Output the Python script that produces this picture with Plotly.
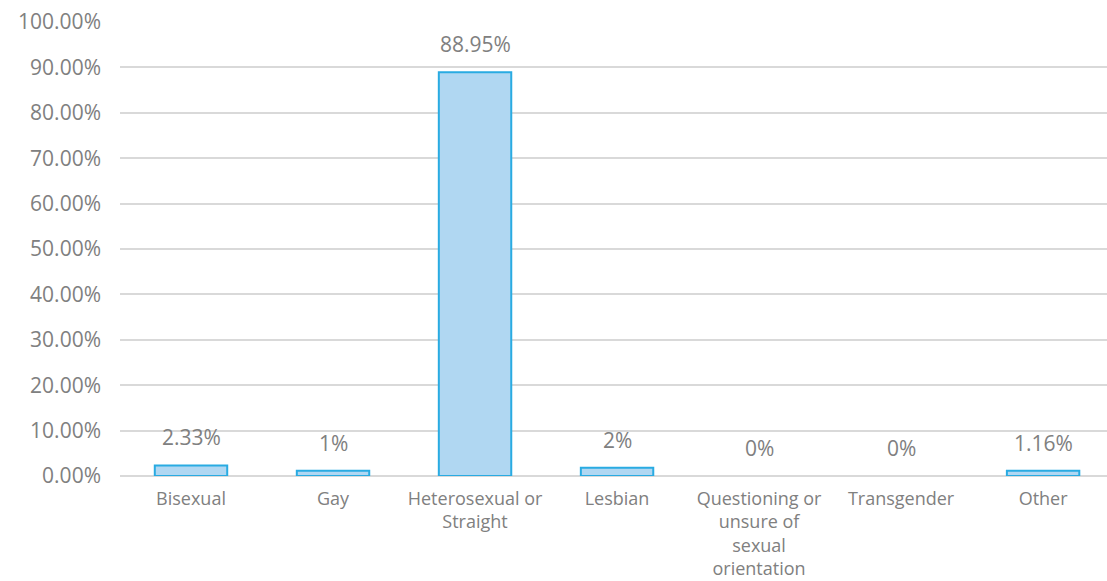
import plotly.graph_objects as go

categories = ["Bisexual", "Gay", "Heterosexual or<br>Straight", "Lesbian",
              "Questioning or<br>unsure of<br>sexual<br>orientation", "Transgender", "Other"]
values = [2.33, 1.16, 88.95, 1.8, 0, 0, 1.16]
labels = ["2.33%", "1%", "88.95%", "2%", "0%", "0%", "1.16%"]
y_ticks = [0, 10, 20, 30, 40, 50, 60, 70, 80, 90, 100]
y_tick_text = [f"{v:.2f}%" for v in y_ticks]

FONT = "'Open Sans', Lato, sans-serif"
GREY = "#808080"

fig = go.Figure()
fig.add_trace(go.Bar(
    x=list(range(len(categories))), y=values,
    marker=dict(color="#b0d7f2",
                line=dict(color="#29abe2", width=[2 if v > 0 else 0 for v in values])),
    width=0.51,
    hoverinfo="skip",
))

for i, (v, t) in enumerate(zip(values, labels)):
    fig.add_annotation(x=i, y=v, text=t, showarrow=False, yanchor="bottom",
                       yshift=12, font=dict(family=FONT, size=21, color=GREY))

fig.update_layout(
    width=1107, height=581,
    margin=dict(l=120, r=0, t=22, b=105),
    plot_bgcolor="white", paper_bgcolor="white",
    showlegend=False,
    font=dict(family=FONT, color=GREY),
)
fig.update_yaxes(
    range=[0, 100], tickvals=y_ticks, ticktext=y_tick_text,
    showgrid=True, gridcolor="#d9d9d9", gridwidth=2,
    zeroline=True, zerolinecolor="#d9d9d9", zerolinewidth=2,
    tickfont=dict(family=FONT, size=21, color=GREY),
    ticks="", ticklabelstandoff=18,
)
fig.update_xaxes(
    range=[-0.5, 6.45],
    tickvals=list(range(len(categories))), ticktext=categories,
    showgrid=False, showline=False, ticks="",
    tickfont=dict(family=FONT, size=18, color=GREY),
    tickangle=0, ticklabelstandoff=10,
)

fig.write_html("out.html")
